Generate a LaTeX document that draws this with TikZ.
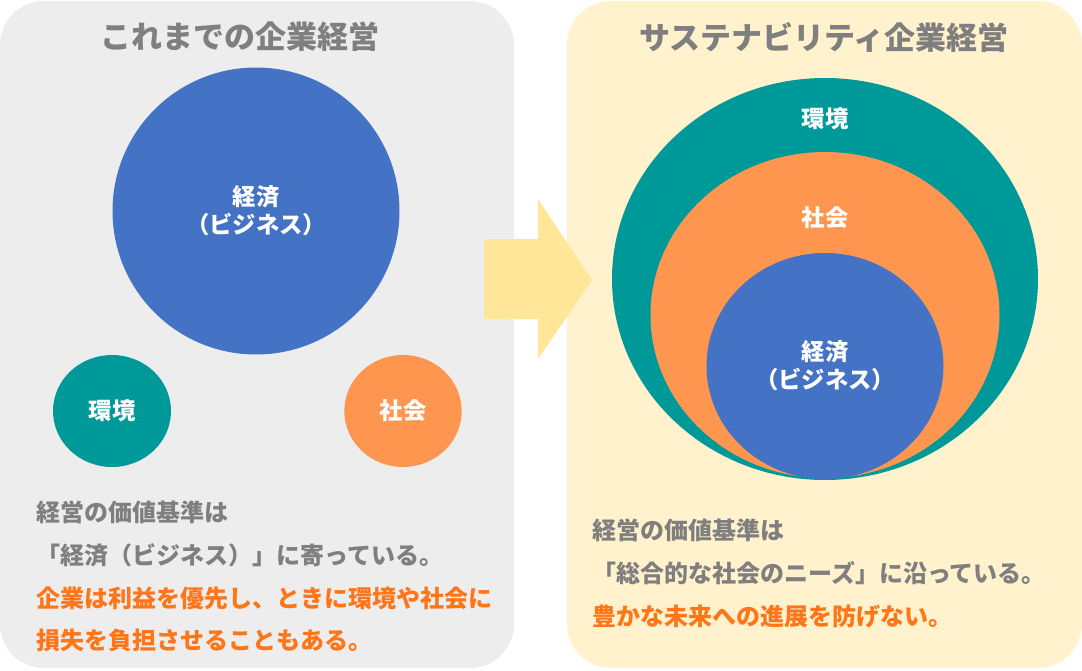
\documentclass[tikz,border=0pt]{standalone}
\usepackage{fontspec}
\setmainfont{Noto Sans CJK JP}
\usetikzlibrary{shapes.geometric}

\definecolor{panelgrey}{HTML}{EDEDED}
\definecolor{panelcream}{HTML}{FFF2CC}
\definecolor{arrowyellow}{HTML}{FFE699}
\definecolor{econblue}{HTML}{4472C4}
\definecolor{envteal}{HTML}{009999}
\definecolor{socorange}{HTML}{FF964F}
\definecolor{textgrey}{HTML}{7F7F7F}
\definecolor{textorange}{HTML}{FF7518}

\tikzset{
	title/.style={text=textgrey, inner sep=0pt, font=\fontsize{23.25}{28}\selectfont\bfseries},
	body/.style={anchor=west, inner sep=0pt, text=textgrey, font=\fontsize{18}{22}\selectfont\bfseries},
	bodyhot/.style={body, text=textorange},
	blob/.style={ellipse, inner sep=0pt, align=center, text=white, font=\fontsize{17.5}{21}\selectfont\bfseries},
	tag/.style={inner sep=0pt, text=white, font=\fontsize{17.5}{21}\selectfont\bfseries}
}

\begin{document}
\begin{tikzpicture}[x=0.75pt,y=-0.75pt]

	\useasboundingbox (0,0) rectangle (1082,671);

	% panels
	\fill[panelgrey, rounded corners=33pt] (0,1) rectangle (514,668);
	\fill[panelcream, rounded corners=33pt] (567,1) rectangle (1082,668);

	% arrow
	\fill[arrowyellow] (484,239) -- (538,239) -- (538,199) -- (592,280)
		-- (538,359) -- (538,319) -- (484,319) -- cycle;

	% titles
	\node[title] (oldT) at (240,37) {これまでの企業経営};
	\node[title] (newT) at (824,37) {サステナビリティ企業経営};

	% left circles
	\node[blob, fill=econblue, minimum width=215.25pt, minimum height=215.25pt] (econL) at (256,211) {経済\\（ビジネス）};
	\node[blob, fill=envteal, minimum width=88.5pt, minimum height=84pt] (envL) at (112,411) {環境};
	\node[blob, fill=socorange, minimum width=88pt, minimum height=84pt] (socL) at (403,411) {社会};

	% right circles
	\node[ellipse, fill=envteal, minimum width=319.5pt, minimum height=301.5pt] (envR) at (825,279) {};
	\node[ellipse, fill=socorange, minimum width=261.75pt, minimum height=244.5pt] (socR) at (825,315) {};
	\node[blob, fill=econblue, minimum width=177.75pt, minimum height=169.5pt] (econR) at (825,366) {経済\\（ビジネス）};
	\node[tag] (envRT) at (825,119) {環境};
	\node[tag] (socRT) at (825,218) {社会};

	% left text
	\node[body] (oldA) at (36,512) {経営の価値基準は};
	\node[body] (oldB) at (36,555) {「経済（ビジネス）」に寄っている。};
	\node[bodyhot] (oldC) at (36,598) {企業は利益を優先し、ときに環境や社会に};
	\node[bodyhot] (oldD) at (36,640) {損失を負担させることもある。};

	% right text
	\node[body] (newA) at (592,530) {経営の価値基準は};
	\node[body] (newB) at (592,573) {「総合的な社会のニーズ」に沿っている。};
	\node[bodyhot] (newC) at (592,617) {豊かな未来への進展を防げない。};

\end{tikzpicture}
\end{document}
